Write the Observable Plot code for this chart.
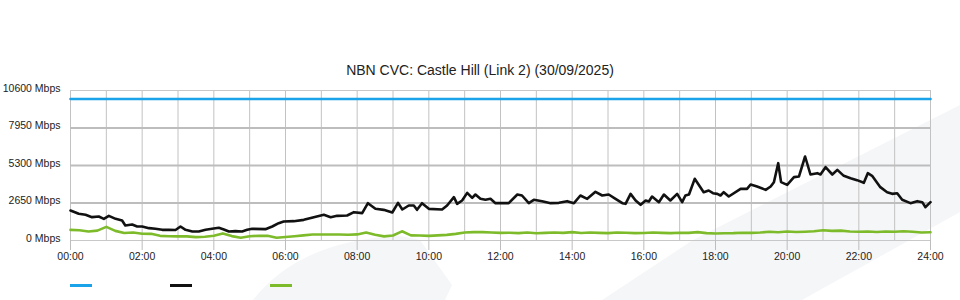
<!DOCTYPE html>
<html>
<head>
<meta charset="utf-8">
<script src="https://cdn.jsdelivr.net/npm/d3@7"></script>
<script src="https://cdn.jsdelivr.net/npm/@observablehq/plot@0.6"></script>
<style>
  html, body { margin: 0; padding: 0; width: 960px; height: 300px; overflow: hidden; background: #fff; }
  #wrap { position: relative; width: 960px; height: 300px; }
  #bg { position: absolute; left: 0; top: 0; }
  #title { position: absolute; left: 0; top: 62px; width: 960px; text-align: center;
           font: 14px "Liberation Sans", Arial, sans-serif; color: #222; }
  #chart { position: absolute; left: 0; top: 0; }
  .sw { position: absolute; top: 284px; width: 22px; height: 3px; }
</style>
</head>
<body>
<div id="wrap">
  <svg id="bg" width="960" height="300">
    <path d="M602,300 L693,240 L960,105 L960,212 L802,300 Z" fill="#f5f6f8"/>
    <path d="M253,300 Q300,240 400,236 L420,240 L452,285 L445,300 Z" fill="#f5f6f8"/>
  </svg>
  <div id="chart"></div>
  <div id="title">NBN CVC: Castle Hill (Link 2) (30/09/2025)</div>
  <div id="legend"></div>
</div>
<script>
// ---- data ----
const xTickHours = [0, 2, 4, 6, 8, 10, 12, 14, 16, 18, 20, 22, 24];
const yTickMbps = [0, 2650, 5300, 7950, 10600];
const seriesColors = ["#1aa3e8", "#111111", "#7dbb2a"];

const capacityHours = [0, 24];
const capacityMbps = [10000, 10000];

const totalHours = [0,0.23,0.42,0.6,0.79,0.93,1.07,1.26,1.44,1.53,1.72,1.86,2.0,2.19,2.37,2.56,2.75,2.93,3.07,3.21,3.4,3.58,3.77,3.95,4.14,4.28,4.42,4.6,4.79,4.93,5.07,5.44,5.63,5.81,5.95,6.23,6.51,6.79,7.07,7.26,7.44,7.72,7.91,8.14,8.3,8.51,8.74,8.98,9.14,9.26,9.44,9.58,9.67,9.81,10.0,10.37,10.51,10.7,10.79,10.93,11.07,11.21,11.3,11.44,11.58,11.72,11.86,12.23,12.47,12.6,12.79,12.93,13.16,13.4,13.63,13.86,14.05,14.23,14.42,14.65,14.84,15.02,15.21,15.4,15.49,15.63,15.77,15.91,16.05,16.14,16.23,16.42,16.56,16.74,16.93,17.07,17.16,17.26,17.42,17.67,17.81,17.93,18.05,18.14,18.23,18.37,18.7,18.88,18.98,19.16,19.4,19.54,19.63,19.75,19.83,20.0,20.19,20.33,20.5,20.65,20.84,20.93,21.07,21.26,21.4,21.58,21.77,21.95,22.14,22.25,22.37,22.6,22.79,22.93,23.07,23.21,23.44,23.63,23.77,23.86,24.0];
const totalMbps = [2120,1885,1814,1649,1696,1530,1743,1530,1413,1060,1130,990,990,872,825,754,754,740,990,754,636,636,754,825,896,778,636,660,636,754,825,801,990,1225,1343,1366,1460,1649,1814,1649,1743,1767,2002,1932,2638,2238,2167,1979,2661,2190,2473,2473,2167,2638,2238,2190,2473,3062,2591,2827,3368,3015,3250,2945,2875,2945,2638,2638,3250,3180,2638,2875,2780,2638,2661,2780,2638,3180,2945,3439,3180,3250,2945,2638,2591,3297,2827,2520,2827,2756,3109,2709,3250,2827,3297,2709,3180,3250,4358,3415,3533,3344,3297,3180,3415,3109,3651,3651,3957,3816,3580,3816,4122,5465,4122,3933,4476,4523,5936,4664,4758,4664,5182,4664,4993,4570,4405,4264,4076,4758,4570,3769,3415,3297,3344,2875,2638,2780,2709,2355,2709];

const lowHours = [0,0.25,0.5,0.75,1,1.25,1.5,1.75,2,2.25,2.5,2.75,3,3.25,3.5,3.75,4,4.25,4.5,4.75,5,5.25,5.5,5.75,6,6.25,6.5,6.75,7,7.25,7.5,7.75,8,8.25,8.5,8.75,9,9.25,9.5,9.75,10,10.25,10.5,10.75,11,11.25,11.5,11.75,12,12.25,12.5,12.75,13,13.25,13.5,13.75,14,14.25,14.5,14.75,15,15.25,15.5,15.75,16,16.25,16.5,16.75,17,17.25,17.5,17.75,18,18.25,18.5,18.75,19,19.25,19.5,19.75,20,20.25,20.5,20.75,21,21.25,21.5,21.75,22,22.25,22.5,22.75,23,23.25,23.5,23.75,24];
const lowMbps = [754,720,640,700,960,680,530,570,480,470,330,300,290,290,240,260,340,500,310,200,300,340,330,190,250,300,360,420,420,420,420,410,430,560,400,290,350,650,360,350,330,360,400,470,560,590,590,560,540,550,520,560,510,540,560,540,590,530,560,540,520,560,550,520,530,560,540,520,550,540,590,520,500,510,520,550,540,560,620,580,640,600,620,650,720,680,700,640,620,640,600,640,620,650,620,560,580];

// ---- tables built from arrays ----
const capacity = capacityHours.map((h, i) => ({h, v: capacityMbps[i]}));
const total = totalHours.map((h, i) => ({h, v: totalMbps[i]}));
const low = lowHours.map((h, i) => ({h, v: lowMbps[i]}));

const fmtHour = d => String(d).padStart(2, "0") + ":00";

const chart = Plot.plot({
  width: 960,
  height: 300,
  marginTop: 90,
  marginBottom: 60,
  marginLeft: 70,
  marginRight: 30,
  style: {background: "transparent", fontFamily: "'Liberation Sans', Arial, sans-serif", fontSize: "10.5px", color: "#222"},
  x: {domain: [0, 24], label: null},
  y: {domain: [0, 10600], label: null},
  marks: [
    Plot.gridX(d3.range(0, 25, 1), {stroke: "#c2c2c2", strokeOpacity: 1}),
    Plot.gridY(yTickMbps.slice(1, 4), {stroke: "#bdbdbd", strokeOpacity: 1, strokeWidth: 2}),
    Plot.ruleY([yTickMbps[4]], {stroke: "#c8c8c8"}),
    Plot.ruleY([0], {stroke: "#c8c8c8"}),
    Plot.axisX({ticks: xTickHours, tickFormat: fmtHour, tickSize: 10, tickPadding: 2, stroke: "#bdbdbd", fill: "#222", label: null}),
    Plot.axisY({ticks: yTickMbps, tickFormat: d => d + " Mbps", tickSize: 0, tickPadding: 10, dy: -2, fill: "#222", label: null}),
    Plot.line(low, {x: "h", y: "v", stroke: seriesColors[2], strokeWidth: 2.6}),
    Plot.line(total, {x: "h", y: "v", stroke: seriesColors[1], strokeWidth: 2.6}),
    Plot.line(capacity, {x: "h", y: "v", stroke: seriesColors[0], strokeWidth: 2.6})
  ]
});
document.getElementById("chart").appendChild(chart);

// legend swatches (no labels in the reference)
const legend = document.getElementById("legend");
seriesColors.forEach((c, i) => {
  const s = document.createElement("div");
  s.className = "sw";
  s.style.left = (70 + i * 100) + "px";
  s.style.background = c;
  legend.appendChild(s);
});
</script>
</body>
</html>
